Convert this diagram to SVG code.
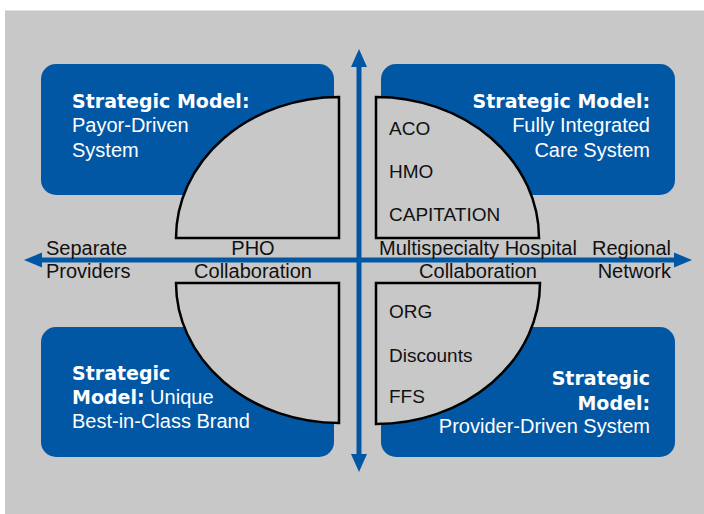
<svg xmlns="http://www.w3.org/2000/svg" width="704" height="514" viewBox="0 0 704 514">
<defs>
<style>
.box{fill:#0157a4}
.quad{fill:#c8c8c8;stroke:#000;stroke-width:2.5;stroke-linejoin:miter}
.b{font-family:"DejaVu Sans",sans-serif;font-weight:bold;font-size:19px;fill:#fff}
.w{font-family:"Liberation Sans",Arial,sans-serif;font-size:20px;fill:#fff}
.k{font-family:"Liberation Sans",Arial,sans-serif;font-size:20px;fill:#111}
.q{font-family:"Liberation Sans",Arial,sans-serif;font-size:19px;fill:#111}
.ax{stroke:#0157a4;stroke-width:5;fill:none}
.ah{fill:#0157a4}
</style>
</defs>
<rect x="0" y="0" width="704" height="514" fill="#fff"/>
<rect x="5" y="10" width="699" height="504" fill="#c8c8c8"/>
<line x1="5" y1="10.5" x2="704" y2="10.5" stroke="#e2e2e2" stroke-width="1"/>

<g id="box-tl">
<rect class="box" x="41" y="64" width="293" height="131" rx="15"/>
<text class="b" x="72" y="108">Strategic Model:</text>
<text class="w" x="72" y="132">Payor-Driven</text>
<text class="w" x="72" y="157">System</text>
</g>
<g id="box-tr">
<rect class="box" x="381" y="64" width="294" height="131" rx="15"/>
<text class="b" x="650" y="108" text-anchor="end">Strategic Model:</text>
<text class="w" x="650" y="132" text-anchor="end">Fully Integrated</text>
<text class="w" x="650" y="157" text-anchor="end">Care System</text>
</g>
<g id="box-bl">
<rect class="box" x="41" y="327" width="293" height="130" rx="15"/>
<text class="b" x="72" y="380">Strategic</text>
<text class="b" x="72" y="404">Model:<tspan class="w" font-weight="normal"> Unique</tspan></text>
<text class="w" x="72" y="428">Best-in-Class Brand</text>
</g>
<g id="box-br">
<rect class="box" x="381" y="327" width="294" height="130" rx="15"/>
<text class="b" x="650" y="385" text-anchor="end">Strategic</text>
<text class="b" x="650" y="410" text-anchor="end">Model:</text>
<text class="w" x="650" y="433" text-anchor="end">Provider-Driven System</text>
</g>

<g id="quad-tl">
<path class="quad" d="M176,238 A163,141 0 0 1 339,97 L339,238 Z"/>
</g>
<g id="quad-tr">
<path class="quad" d="M376,238 L376,97 A163,141 0 0 1 539,238 Z"/>
<text class="q" x="389" y="135">ACO</text>
<text class="q" x="389" y="178">HMO</text>
<text class="q" x="389" y="221">CAPITATION</text>
</g>
<g id="quad-bl">
<path class="quad" d="M176,283 L339,283 L339,423 A163,140 0 0 1 176,283 Z"/>
</g>
<g id="quad-br">
<path class="quad" d="M376,283 L540,283 A164,141 0 0 1 376,424 Z"/>
<text class="q" x="389" y="318">ORG</text>
<text class="q" x="389" y="362">Discounts</text>
<text class="q" x="389" y="403">FFS</text>
</g>

<g id="connectors">
<line class="ax" x1="359" y1="64" x2="359" y2="457"/>
<path class="ah" d="M359,49 L367,67 L351,67 Z"/>
<path class="ah" d="M359,472 L367,454 L351,454 Z"/>
<line class="ax" x1="40" y1="260" x2="676" y2="260"/>
<path class="ah" d="M24,260 L42,252.5 L42,267.5 Z"/>
<path class="ah" d="M692,260 L674,252.5 L674,267.5 Z"/>
</g>

<g id="axis-labels">
<text class="k" x="46" y="255">Separate</text>
<text class="k" x="46" y="278">Providers</text>
<text class="k" x="253" y="255" text-anchor="middle">PHO</text>
<text class="k" x="253" y="278" text-anchor="middle">Collaboration</text>
<text class="k" x="478" y="255" text-anchor="middle">Multispecialty Hospital</text>
<text class="k" x="478" y="278" text-anchor="middle">Collaboration</text>
<text class="k" x="671" y="255" text-anchor="end">Regional</text>
<text class="k" x="671" y="278" text-anchor="end">Network</text>
</g>
</svg>
